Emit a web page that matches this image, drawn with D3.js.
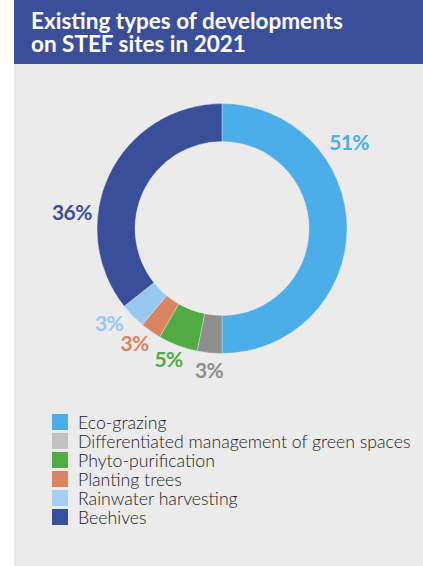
<!DOCTYPE html>
<html lang="en">
<head>
    <meta charset="UTF-8">
    <title>Existing types of developments on STEF sites in 2021</title>
    <style>
        body { margin: 0; background: #fff; }
        #chart svg { display: block; }
        .title { font: 700 22.5px Lato, sans-serif; fill: #fff; }
        .pct { font: 700 21px Lato, sans-serif; letter-spacing: -0.6px; }
        .legend text { font: 300 17.7px Lato, sans-serif; fill: #222; }
    </style>
</head>
<body>
    <div id="chart"></div>
    <script src="https://d3js.org/d3.v7.min.js"></script>
    <script>
        const categories = [
          "Eco-grazing",
          "Differentiated management of green spaces",
          "Phyto-purification",
          "Planting trees",
          "Rainwater harvesting",
          "Beehives"
        ];
        const shares = [50.0, 3.2, 5.1, 2.7, 3.3, 35.7];
        const pctLabels = ["51%", "3%", "5%", "3%", "3%", "36%"];

        const sliceColors  = ["#4baee8", "#8e8e8e", "#52aa45", "#d98563", "#97c9f0", "#3a4f9a"];
        const legendColors = ["#4baee8", "#c1c1c1", "#52aa45", "#d98563", "#a3d0f2", "#3a4f9a"];

        // where each percentage sits: angle (deg, clockwise from top) and radius
        const labelAt = [[55.6, 154], [185.2, 142], [202.3, 141], [217.4, 144], [230.2, 147], [276.3, 151]];

        const width = 423, height = 566;
        const cx = 222, cy = 228.5;

        const svg = d3.select("#chart").append("svg")
          .attr("width", width)
          .attr("height", height);

        // header band + grey panel
        svg.append("rect").attr("x", 14).attr("y", 0).attr("width", width - 14).attr("height", 64).attr("fill", "#3b4e99");
        svg.append("rect").attr("x", 14).attr("y", 64).attr("width", width - 14).attr("height", height - 64).attr("fill", "#ebebeb");

        svg.append("text").attr("class", "title").attr("x", 31).attr("y", 29).text("Existing types of developments");
        svg.append("text").attr("class", "title").attr("x", 31).attr("y", 52).text("on STEF sites in 2021");

        const pie = d3.pie().sort(null).value(d => d.value);
        const arcs = pie(categories.map((c, i) => ({ name: c, value: shares[i], i })));

        const arc = d3.arc().innerRadius(87).outerRadius(125);

        const g = svg.append("g").attr("transform", `translate(${cx},${cy})`);

        g.selectAll("path")
          .data(arcs)
          .enter().append("path")
          .attr("d", arc)
          .attr("fill", d => sliceColors[d.data.i])
          .attr("stroke", "#ebebeb")
          .attr("stroke-width", 0.4);

        g.selectAll(".pct")
          .data(arcs)
          .enter().append("text")
          .attr("class", "pct")
          .attr("text-anchor", "middle")
          .attr("dominant-baseline", "central")
          .attr("fill", d => sliceColors[d.data.i])
          .attr("transform", d => {
            const [deg, r] = labelAt[d.data.i];
            const a = deg * Math.PI / 180;
            return `translate(${r * Math.sin(a)},${-r * Math.cos(a)})`;
          })
          .text(d => pctLabels[d.data.i]);

        // legend
        const y = d3.scaleBand().domain(categories).range([414, 414 + 19 * categories.length]);

        const legend = svg.append("g").attr("class", "legend");
        const row = legend.selectAll("g")
          .data(categories)
          .enter().append("g")
          .attr("transform", d => `translate(52,${y(d)})`);

        row.append("rect")
          .attr("width", 16)
          .attr("height", 16)
          .attr("fill", (d, i) => legendColors[i]);

        row.append("text")
          .attr("x", 26)
          .attr("y", 15)
          .text(d => d);
    </script>
</body>
</html>
